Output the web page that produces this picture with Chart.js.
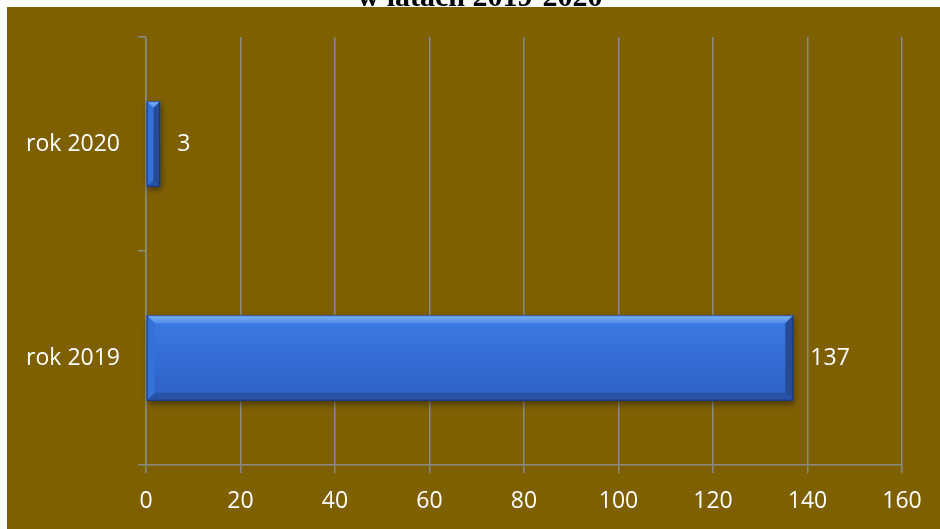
<!DOCTYPE html>
<html>
<head>
<meta charset="utf-8">
<script src="https://cdn.jsdelivr.net/npm/chart.js@4.4.0/dist/chart.umd.min.js"></script>
<style>
  html, body { margin: 0; padding: 0; background: #fff; }
  #wrap { width: 940px; height: 529px; position: relative; }
</style>
</head>
<body>
<div id="wrap"><canvas id="chart" width="940" height="529"></canvas></div>
<script>
const chartTitle = 'w latach 2019-2020';
const categories = ['rok 2019', 'rok 2020'];
const values = [137, 3];
const xTicks = [0, 20, 40, 60, 80, 100, 120, 140, 160];

const FONT = '"Open Sans", "Noto Sans", sans-serif';
const GRID = '#8a8a8a';

// white strip + cut-off title + olive panel
const backdrop = {
    id: 'backdrop',
    beforeDraw(chart) {
        const ctx = chart.ctx;
        ctx.save();
        ctx.fillStyle = '#ffffff';
        ctx.fillRect(0, 0, chart.width, chart.height);
        ctx.fillStyle = '#000';
        ctx.font = 'bold 30px "Liberation Serif", serif';
        ctx.textAlign = 'center';
        ctx.textBaseline = 'alphabetic';
        ctx.fillText(chartTitle, 480, 6);
        ctx.fillStyle = '#7f6000';
        ctx.fillRect(7, 7, chart.width - 7, chart.height - 7);
        ctx.restore();
    }
};

function barBox(el) {
    const p = el.getProps(['x', 'y', 'base', 'height'], true);
    return {
        l: Math.min(p.base, p.x), r: Math.max(p.base, p.x),
        t: p.y - p.height / 2, b: p.y + p.height / 2, cy: p.y, end: p.x
    };
}

function poly(ctx, pts, color) {
    ctx.beginPath();
    ctx.moveTo(pts[0][0], pts[0][1]);
    for (let i = 1; i < pts.length; i++) ctx.lineTo(pts[i][0], pts[i][1]);
    ctx.closePath();
    ctx.fillStyle = color;
    ctx.fill();
}

// bevelled bars with soft shadow and value labels
const bevel = {
    id: 'bevel',
    afterDatasetsDraw(chart) {
        const ctx = chart.ctx;
        chart.getDatasetMeta(0).data.forEach((el, i) => {
            const k = barBox(el);
            const w = k.r - k.l, h = k.b - k.t;
            const s = Math.min(8, w / 2, h / 2);
            ctx.save();
            ctx.shadowColor = 'rgba(0,0,0,0.45)';
            ctx.shadowBlur = 6;
            ctx.shadowOffsetX = 1;
            ctx.shadowOffsetY = 3;
            const g = ctx.createLinearGradient(0, k.t, 0, k.b);
            g.addColorStop(0, '#3b7be4');
            g.addColorStop(1, '#2c60c3');
            ctx.fillStyle = g;
            ctx.fillRect(k.l, k.t, w, h);
            ctx.restore();
            ctx.save();
            // top
            const gt = ctx.createLinearGradient(0, k.t, 0, k.t + s);
            gt.addColorStop(0, '#80b5fa');
            gt.addColorStop(1, '#4f8cea');
            poly(ctx, [[k.l, k.t], [k.r, k.t], [k.r - s, k.t + s], [k.l + s, k.t + s]], gt);
            // left
            poly(ctx, [[k.l, k.t], [k.l + s, k.t + s], [k.l + s, k.b - s], [k.l, k.b]], '#3572d8');
            // bottom
            poly(ctx, [[k.l, k.b], [k.l + s, k.b - s], [k.r - s, k.b - s], [k.r, k.b]], '#2852a6');
            // right
            poly(ctx, [[k.r, k.t], [k.r, k.b], [k.r - s, k.b - s], [k.r - s, k.t + s]], '#264b93');
            ctx.strokeStyle = 'rgba(20,40,90,0.7)';
            ctx.lineWidth = 1;
            ctx.strokeRect(k.l + 0.5, k.t + 0.5, w - 1, h - 1);

            ctx.fillStyle = '#ffffff';
            ctx.font = '23px ' + FONT;
            ctx.textAlign = 'left';
            ctx.textBaseline = 'middle';
            ctx.fillText(String(values[i]), k.end + 17, k.cy);
            ctx.restore();
        });
    }
};

new Chart(document.getElementById('chart'), {
    type: 'bar',
    data: {
        labels: categories,
        datasets: [{
            data: values,
            backgroundColor: '#3169d0',
            borderWidth: 0,
            barPercentage: 0.4,
            categoryPercentage: 1
        }]
    },
    options: {
        indexAxis: 'y',
        responsive: false,
        animation: false,
        devicePixelRatio: 1,
        layout: { padding: { top: 37, right: 38, left: 0, bottom: 0 } },
        plugins: { legend: { display: false }, tooltip: { enabled: false } },
        scales: {
            x: {
                min: 0, max: 160,
                afterFit(scale) { scale.height = 64; },
                afterBuildTicks(scale) { scale.ticks = xTicks.map(v => ({ value: v })); },
                grid: { color: GRID, lineWidth: 1.5, tickLength: 8 },
                border: { color: GRID, width: 1.5 },
                ticks: { color: '#ffffff', padding: 15, autoSkip: false, maxRotation: 0, font: { family: FONT, size: 23 } }
            },
            y: {
                reverse: true,
                afterFit(scale) { scale.width = 146; },
                grid: { drawOnChartArea: false, offset: true, color: GRID, lineWidth: 1.5, tickLength: 8 },
                border: { color: GRID, width: 1.5 },
                ticks: { color: '#ffffff', padding: 18, font: { family: FONT, size: 23 } }
            }
        }
    },
    plugins: [backdrop, bevel]
});
</script>
</body>
</html>
